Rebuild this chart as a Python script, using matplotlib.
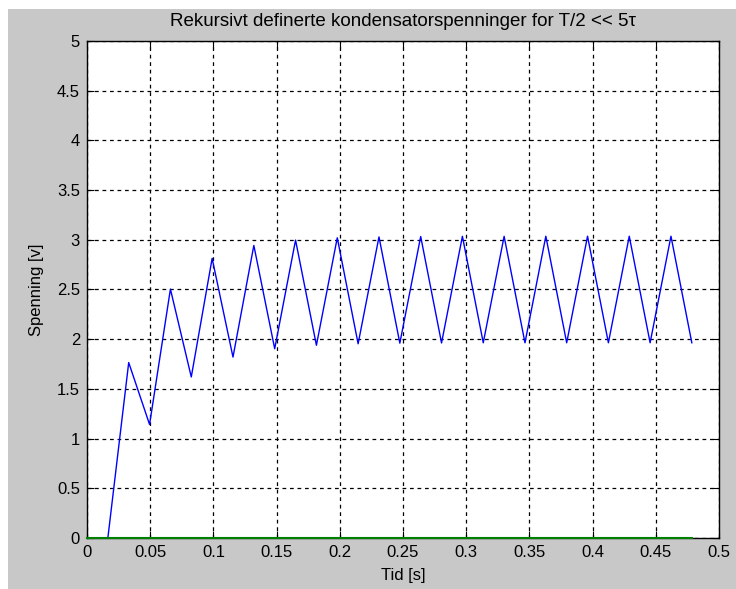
import matplotlib.pyplot as plt
from matplotlib.patches import Rectangle

# sample times [s] and recursively computed capacitor voltage [V]
tid = [0.0, 0.0165, 0.033, 0.0495, 0.066, 0.0825, 0.099, 0.1155, 0.132, 0.1485,
       0.165, 0.1815, 0.198, 0.2145, 0.231, 0.2475, 0.264, 0.2805, 0.297, 0.3135,
       0.33, 0.3465, 0.363, 0.3795, 0.396, 0.4125, 0.429, 0.4455, 0.462, 0.4785]
spenning = [0.0, 0.0, 1.765, 1.142, 2.504, 1.620, 2.813, 1.820, 2.943, 1.904,
            2.997, 1.939, 3.020, 1.954, 3.029, 1.960, 3.033, 1.962, 3.035, 1.964,
            3.035, 1.964, 3.036, 1.964, 3.036, 1.964, 3.036, 1.964, 3.036, 1.964]
nullinje = [0.0] * len(tid)

xticks = [0, 0.05, 0.1, 0.15, 0.2, 0.25, 0.3, 0.35, 0.4, 0.45, 0.5]
yticks = [0, 0.5, 1, 1.5, 2, 2.5, 3, 3.5, 4, 4.5, 5]

plt.rcParams['font.family'] = ['Liberation Sans', 'DejaVu Sans']
plt.rcParams['font.size'] = 12

fig = plt.figure(figsize=(7.36, 5.89), dpi=100, facecolor='white')
# grey window area with a thin white border top and left
fig.patches.append(Rectangle((8 / 736, 0), 1, 1 - 9 / 589, transform=fig.transFigure,
                             facecolor='#c8c8c8', edgecolor='none', zorder=-10))

ax = fig.add_axes([0.1182, 0.0866, 0.8587, 0.8438])
ax.set_facecolor('white')

ax.plot(tid, spenning, color='#0000ff', linewidth=1.0)
ax.plot(tid, nullinje, color='#008000', linewidth=1.5, clip_on=False, zorder=5)

ax.set_xlim(0, 0.5)
ax.set_ylim(0, 5)
ax.set_xticks(xticks)
ax.set_yticks(yticks)
ax.set_xticklabels([f'{v:g}' for v in xticks])
ax.set_yticklabels([f'{v:g}' for v in yticks])
ax.tick_params(direction='in', length=5, top=True, right=True, colors='black',
               labelsize=12, pad=5)
ax.grid(True, color='black', linestyle=(0, (3, 3)), linewidth=0.9)

for s in ax.spines.values():
    s.set_color('black')
    s.set_linewidth(1.0)

ax.set_title('Rekursivt definerte kondensatorspenninger for T/2 << 5\u03c4', pad=11,
             fontsize=13.5)
ax.set_xlabel('Tid [s]', labelpad=6)
ax.set_ylabel('Spenning [v]', labelpad=9)

fig.savefig('out.png', dpi=100, facecolor=fig.get_facecolor())
